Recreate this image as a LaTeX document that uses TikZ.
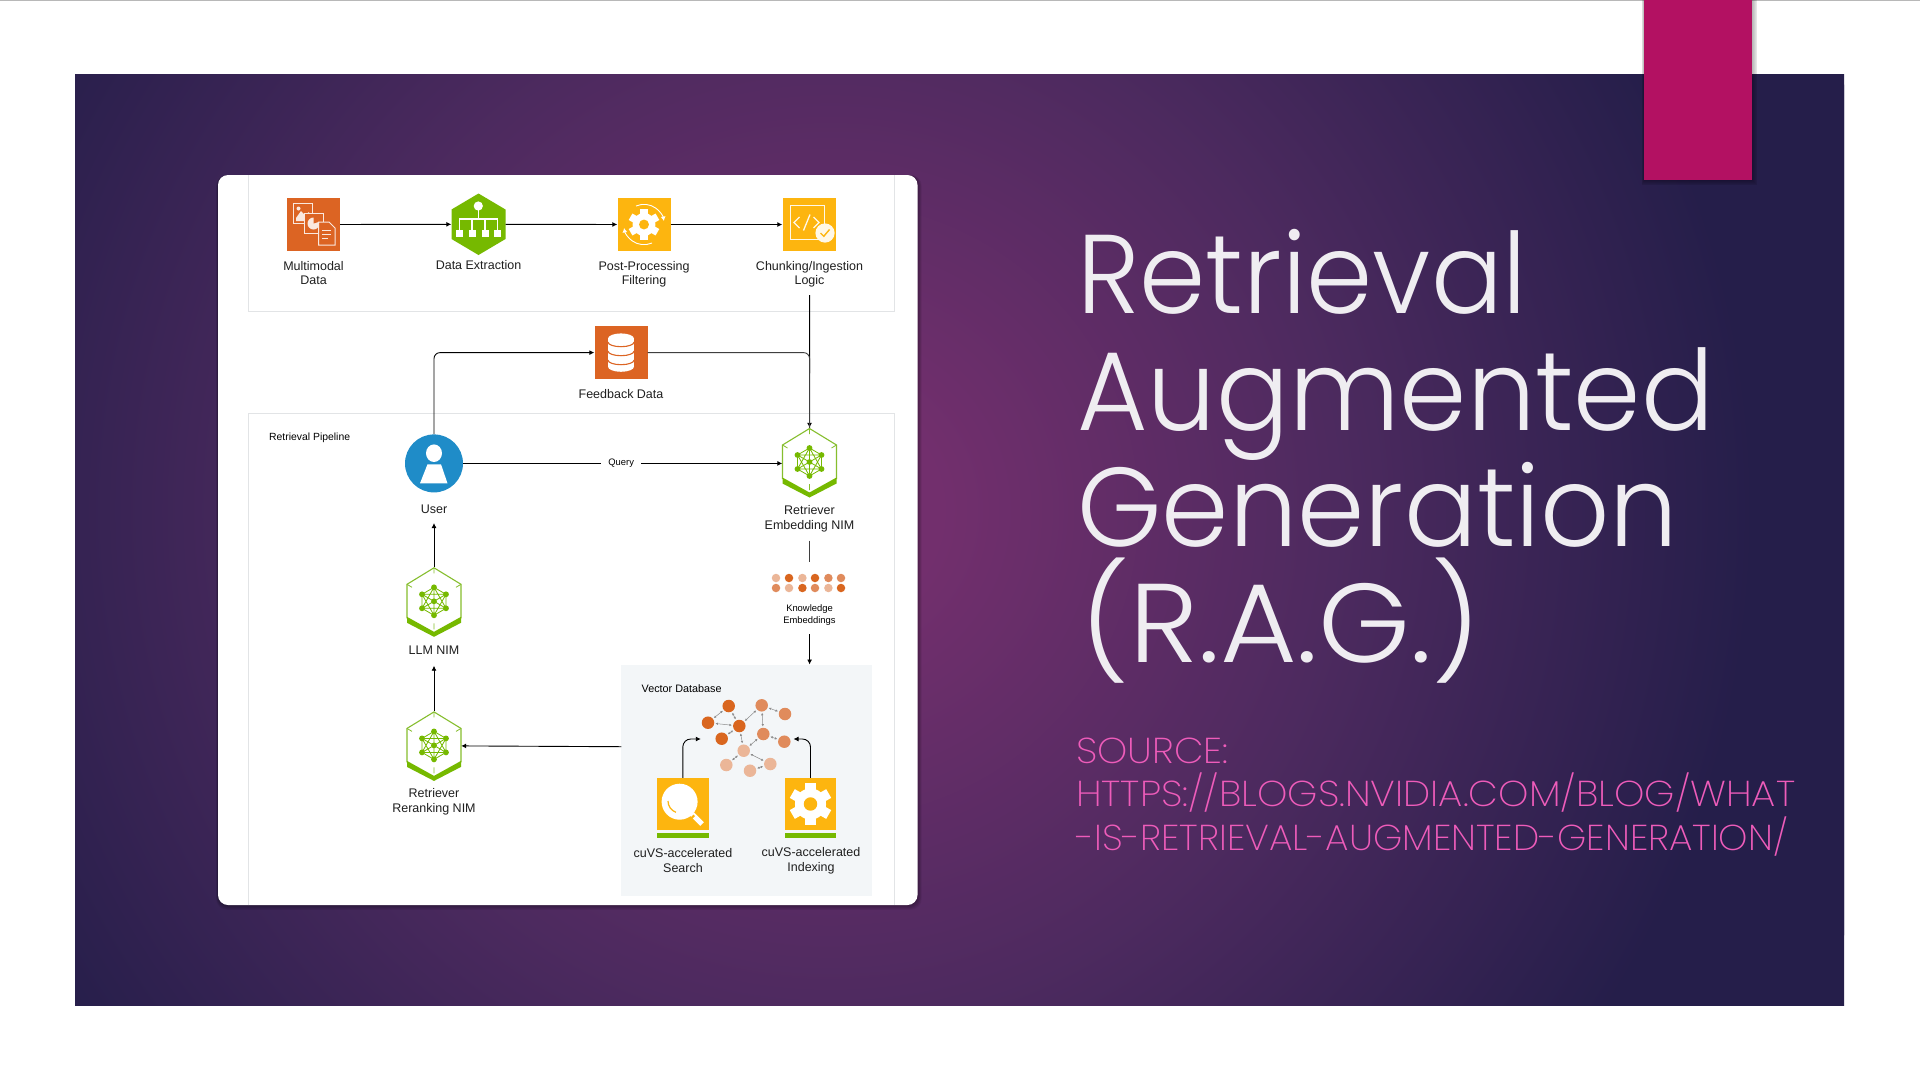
\documentclass[tikz,border=0pt]{standalone}
\usepackage{fontspec}
\usepackage{graphicx}
\setmainfont{Liberation Sans}
\newfontfamily\titlefont{Poppins Light}
\newfontfamily\srcfont{Poppins ExtraLight}
\usetikzlibrary{arrows.meta,calc}
\definecolor{oc}{HTML}{DC6423}
\definecolor{amb}{HTML}{FDB50F}
\definecolor{grn}{HTML}{76B900}
\definecolor{lgrn}{HTML}{86BE2E}
\definecolor{usr}{HTML}{1F8CC8}
\definecolor{ln}{HTML}{3F3F3F}
\definecolor{bd}{HTML}{E2E4E6}
\definecolor{vdbc}{HTML}{F3F6F8}
\definecolor{gd}{HTML}{D9661F}
\definecolor{gm}{HTML}{E08B5C}
\definecolor{gl}{HTML}{EBB698}
\definecolor{tabc}{HTML}{B31162}
\definecolor{ttl}{HTML}{EFEDF1}
\definecolor{src}{HTML}{EE5CBA}
\definecolor{cA}{HTML}{722F6D}
\definecolor{cB}{HTML}{4D2A5F}
\definecolor{cC}{HTML}{251E4A}
\pgfdeclareradialshading{bggrad}{\pgfpointorigin}{color(0bp)=(cA); color(2.5bp)=(cA); color(11.5bp)=(cB); color(21bp)=(cC); color(50bp)=(cC)}
\tikzset{
  lbl/.style={inner sep=0pt,align=center,text=black!88,font=\fontsize{12.5}{14.6}\selectfont},
  smalllbl/.style={inner sep=0pt,align=center,text=black,font=\fontsize{9.4}{11.6}\selectfont},
  sqicon/.style={minimum width=53pt,minimum height=53pt,inner sep=0pt,fill=#1},
  hexslot/.style={minimum width=54pt,minimum height=#1,inner sep=0pt},
  flow/.style={draw=ln,line width=0.9pt,-{Latex[length=5pt,width=5pt]},black},
  plainflow/.style={draw=ln,line width=0.9pt},
  gdot/.style={circle,inner sep=0pt,minimum size=12.5pt,fill=#1},
  kdot/.style={circle,inner sep=0pt,minimum size=8.5pt,fill=#1},
  gedge/.style={draw=black!45,line width=0.5pt,{Latex[length=2.5pt,width=2.5pt]}-{Latex[length=2.5pt,width=2.5pt]},shorten >=1pt,shorten <=1pt},
  ttlnode/.style={inner sep=0pt,anchor=base west,text=ttl,font=\titlefont\fontsize{112}{112}\selectfont},
  srcnode/.style={inner sep=0pt,anchor=base west,text=src,font=\srcfont\fontsize{36}{36}\selectfont}
}
\newcommand{\gearicon}[5]{%
  \begin{scope}[shift={(#1,#2)}]
    \fill[white] (0,0) circle (#3*0.74);
    \foreach \a in {0,60,...,300}{
      \fill[white,rotate=\a+#5] (-#3*0.24,-#3) rectangle (#3*0.24,-#3*0.6);
    }
    \fill[#4] (0,0) circle (#3*0.32);
  \end{scope}}
\newcommand{\nimicon}[2]{%
  \begin{scope}[shift={(#1,#2)}]
    \draw[lgrn,line width=1.1pt,line join=miter] (-27,17) -- (-27,-17) -- (0,-33.5) -- (27,-17) -- (27,17);
    \fill[grn] (-27,15.5) -- (0,30.5) -- (27,15.5) -- (27,21.5) -- (0,35.5) -- (-27,21.5) -- cycle;
    \draw[lgrn,line width=0.8pt] (0,-33.5) -- (0,-28) (-27,-17) -- (-22,-14) (27,-17) -- (22,-14) (0,28) -- (0,22);
    \draw[grn,line width=0.8pt] (0,-14) -- (-12,-7) -- (-12,7) -- (0,14) -- (12,7) -- (12,-7) -- cycle
      (0,-14) -- (-12,7) -- (12,7) -- cycle (0,14) -- (-12,-7) -- (12,-7) -- cycle (0,-14) -- (0,14) (-12,-7) -- (12,7) (12,-7) -- (-12,7);
    \foreach \p in {(0,-14),(-12,-7),(-12,7),(0,14),(12,7),(12,-7),(0,0)}{\fill[grn] \p circle (2.9);}
  \end{scope}}
\begin{document}
\begin{tikzpicture}[x=1pt,y=-1pt]
\useasboundingbox (0,0) rectangle (1920,1080);
\fill[white] (0,0) rectangle (1920,1080);
\fill[black!28] (0,0) rectangle (1920,1);
\begin{scope}
  \clip (75,74.3) rectangle (1844,1005);
  \fill[cC] (70,70) rectangle (1850,1010);
  \shade[shading=bggrad] (830,510) circle (1100);
\end{scope}
\foreach \i in {1,...,6}{\fill[black,opacity=0.05] (1644-\i*0.4,0) rectangle (1752+\i*0.9,180+\i*0.9);}
\fill[tabc] (1644,0) rectangle (1752,180);
\foreach \i in {1,...,6}{\fill[black,opacity=0.06,rounded corners=11pt] (218-\i*0.3,175) rectangle (917.5+\i*0.7,905+\i*0.8);}
\fill[white,rounded corners=10pt] (218,175) rectangle (917.5,905);
\begin{scope}
  \clip[rounded corners=10pt] (218,175) rectangle (917.5,905);
  \draw[bd,line width=1pt] (248.5,175) -- (248.5,311) -- (894,311) -- (894,175);
  \draw[bd,line width=1pt] (248.5,905) -- (248.5,413) -- (894,413) -- (894,905);
\end{scope}
\node[lbl,font=\fontsize{10.4}{12}\selectfont,text=black,anchor=west] (pipe) at (269,438.3) {Retrieval Pipeline};
\node[fill=vdbc,inner sep=0pt,minimum width=250.7pt,minimum height=231pt] (vdb) at (746.6,780.2) {};
\node[lbl,font=\fontsize{10.8}{12}\selectfont,text=black,anchor=west] (vdbl) at (641.5,689) {Vector Database};
% top row
\node[sqicon=oc] (multi) at (313.5,224.5) {};
\node[hexslot=61pt] (extract) at (478.5,224.3) {};
\node[sqicon=amb] (post) at (644,224.5) {};
\node[sqicon=amb] (chunk) at (809,224.5) {};
\node[lbl] (multil) at (313.5,272.9) {Multimodal\\Data};
\node[lbl] (extractl) at (478.5,265.3) {Data Extraction};
\node[lbl] (postl) at (644,274.3) {Post-Processing\\Filtering};
\node[lbl] (chunkl) at (809.5,274.3) {Chunking/Ingestion\\Logic};
\begin{scope}[shift={(280,190)}]
  \draw[white!85!oc,line width=1pt] (13,13.5) rectangle (32,33.5);
  \fill[white!85!oc] (16,28) -- (21,21) -- (25,25) -- (29,22) -- (29,31) -- (16,31) -- cycle (18.5,18.5) circle (2);
  \draw[white!85!oc,fill=oc,line width=1pt] (24,23.5) rectangle (43.5,43.5);
  \fill[white!85!oc] (33.5,33.5) circle (6);
  \fill[oc] (33.5,33.5) -- (33.5,27) -- (36,27) -- (40,31.5) -- cycle;
  \draw[white!85!oc,fill=oc,line width=1pt] (38.5,32) -- (49,32) -- (55,38) -- (55,55) -- (38.5,55) -- cycle;
  \draw[white!85!oc,line width=0.9pt] (42,40) -- (51,40) (42,44) -- (51,44) (42,48) -- (48,48);
\end{scope}
\fill[grn] (478.5,193.5) -- (505.5,209.5) -- (505.5,239) -- (478.5,255) -- (451.5,239) -- (451.5,209.5) -- cycle;
\fill[white] (478.3,206) circle (4.6);
\draw[white,line width=1.1pt] (478.3,206) -- (478.3,219) (459.7,230) -- (459.7,219) -- (497.4,219) -- (497.4,230) (472,219) -- (472,230) (485,219) -- (485,230);
\foreach \xx in {459.7,472,485,497.4}{\fill[white] (\xx-3.5,229.5) rectangle (\xx+3.5,236.5);}
\gearicon{644}{224.5}{15.5}{amb}{0}
\begin{scope}[shift={(644,224.5)}]
  \draw[white,line width=0.9pt,-{Latex[length=4.5pt,width=5pt]}] (-8,-18.5) arc[start angle=-113.4,end angle=-10,radius=20.2];
  \draw[white,line width=0.9pt,-{Latex[length=4.5pt,width=5pt]}] (8,18.5) arc[start angle=66.6,end angle=170,radius=20.2];
\end{scope}
\begin{scope}[shift={(775,190)}]
  \draw[white!90!amb,line width=1pt] (15.5,15.5) rectangle (49.5,49.5);
  \draw[white!90!amb,line width=1.3pt] (24.5,27) -- (19,32.5) -- (24.5,38) (38.5,27) -- (44,32.5) -- (38.5,38) (35,24.5) -- (28.5,40.5);
  \fill[white!90!amb] (50,43) circle (9.6);
  \draw[amb,line width=1.4pt] (45.5,43) -- (48.8,46.3) -- (54.5,39.5);
\end{scope}
\draw[flow] (multi) -- (extract);
\draw[flow] (extract) -- (post);
\draw[flow] (post) -- (chunk);
% feedback
\node[sqicon=oc] (feed) at (621,352.6) {};
\node[lbl] (feedl) at (621,393.6) {Feedback Data};
\begin{scope}[shift={(621,352.6)}]
  \fill[white] (-13,-14) rectangle (13,14);
  \fill[white] (0,-14) ellipse (13 and 5.2);
  \fill[white] (0,14) ellipse (13 and 5.2);
  \draw[oc,line width=1.1pt] (-13,-10.5) arc[start angle=180,end angle=360,x radius=13,y radius=-4.6];
  \draw[oc,line width=1.1pt] (-13,-1.5) arc[start angle=180,end angle=360,x radius=13,y radius=-4.6];
  \draw[oc,line width=1.1pt] (-13,7.5) arc[start angle=180,end angle=360,x radius=13,y radius=-4.6];
\end{scope}
% user
\node[circle,fill=usr,minimum size=58pt,inner sep=0pt] (user) at (434,463.4) {};
\fill[white] (434,453.2) ellipse (8 and 8.8);
\fill[white] (427.5,464.3) -- (441,464.3) -- (447.5,483.3) -- (420,483.3) -- cycle;
\node[lbl] (userl) at (434,509) {User};
% NIMs
\node[hexslot=70.8pt] (retr) at (809.5,463.4) {};
\nimicon{809.5}{462}
\node[lbl] (retrl) at (809.5,519) {Retriever\\Embedding NIM};
\node[hexslot=69pt] (llm) at (434,601.8) {};
\nimicon{434}{601.3}
\node[lbl] (llml) at (434,650) {LLM NIM};
\node[hexslot=69pt] (rerank) at (434,745.9) {};
\nimicon{434}{745.4}
\node[lbl] (rerankl) at (434,801.6) {Retriever\\Reranking NIM};
% knowledge embeddings
\foreach \nm/\xx/\yy/\cc in {a/776/578/gl,b/789/578/gd,c/802.4/578/gl,d/815/578/gd,e/828.4/578/gm,f/841/578/gm,g/776/588/gm,h/789/588/gl,i/802.4/588/gd,j/815/588/gm,k/828.4/588/gl,l/841/588/gd}{
  \node[kdot=\cc] (k\nm) at (\xx,\yy) {};
}
\node[smalllbl] (kel) at (809.5,614.8) {Knowledge\\Embeddings};
\coordinate (chunkfree) at (809.6,295);
\coordinate (retrfree) at (809.6,540.7);
\coordinate (retrend) at (809.6,562);
\coordinate (kefree) at (809.6,634);
\coordinate (vdbtop) at (809.6,664.5);
\coordinate (vdbout) at (621.3,746.7);
\coordinate (userin) at (434,523);
\coordinate (llmin) at (434,665.7);
\draw[flow] (chunkfree) -- (retr.north);
\draw[flow,rounded corners=6pt] (user.north) |- (feed.west);
\draw[plainflow,rounded corners=6pt] (feed.east) -| (chunkfree |- retr.north);
\draw[flow] (user) -- node[pos=0.495,fill=white,inner sep=0pt,minimum width=40pt,minimum height=10pt,font=\fontsize{9.4}{11}\selectfont,text=black] (query) {Query} (retr);
\draw[plainflow] (retrfree) -- (retrend);
\draw[flow] (kefree) -- (vdbtop);
\draw[flow] (llm.north) -- (userin);
\draw[flow] (rerank.north) -- (llmin);
\draw[flow] (vdbout) -- (rerank.east);
% vector graph
\node[gdot=gd] (g1) at (728.7,706) {};
\node[gdot=gd] (g2) at (708,722.7) {};
\node[gdot=gd] (g3) at (739.3,726) {};
\node[gdot=gd] (g4) at (721.7,738.7) {};
\node[gdot=gm] (g5) at (761.7,705.3) {};
\node[gdot=gm] (g6) at (785,714) {};
\node[gdot=gm] (g7) at (763.3,734) {};
\node[gdot=gm] (g8) at (784.3,741.7) {};
\node[gdot=gl] (g9) at (743.7,750.7) {};
\node[gdot=gl] (g10) at (726.3,765) {};
\node[gdot=gl] (g11) at (750,770.7) {};
\node[gdot=gl] (g12) at (770.3,764) {};
\foreach \p/\q in {g1/g2,g1/g3,g2/g3,g4/g3,g3/g5,g5/g6,g5/g7,g7/g8,g7/g9,g3/g9,g9/g10,g9/g12,g11/g12}{\draw[gedge] (\p) -- (\q);}
% cuVS search
\node[inner sep=0pt,minimum width=51.6pt,minimum height=52pt,fill=amb] (search) at (682.8,804) {};
\fill[grn] (657,832.7) rectangle (708.6,837.7);
\fill[white] (679.6,801.7) circle (18);
\draw[amb,line width=1.2pt] (668,801) arc[start angle=180,end angle=110,radius=12];
\draw[white,line width=5pt] (692,814) -- (702,824);
\fill[amb] (690.5,817.5) -- (693.5,814.5) -- (695,816) -- (692,819) -- cycle;
\node[lbl] (searchl) at (683,860.3) {cuVS-accelerated\\Search};
% cuVS indexing
\node[inner sep=0pt,minimum width=51.6pt,minimum height=52pt,fill=amb] (index) at (810.5,804) {};
\fill[grn] (784.8,832.7) rectangle (836,837.7);
\gearicon{810.5}{804}{21}{amb}{0}
\node[lbl] (indexl) at (811,860.6) {cuVS-accelerated\\Indexing};
\coordinate (searchto) at (700.8,739);
\coordinate (indexto) at (793.5,739);
\draw[flow,rounded corners=8pt] (search.north) |- (searchto);
\draw[flow,rounded corners=8pt] (index.north) |- (indexto);
% title
\node[ttlnode] (t1) at (1077,313) {\resizebox{450pt}{\height}{Retrieval}};
\node[ttlnode] (t2) at (1077,430) {\resizebox{637pt}{\height}{Augmented}};
\node[ttlnode] (t3) at (1077,546.7) {\resizebox{601pt}{\height}{Generation}};
\node[ttlnode] (t4) at (1080,662.7) {\resizebox{401pt}{\height}{(R.A.G.)}};
\node[srcnode] (s1) at (1076,763) {\resizebox{152pt}{\height}{SOURCE:}};
\node[srcnode] (s2) at (1076,806.7) {\resizebox{719pt}{\height}{HTTPS://BLOGS.NVIDIA.COM/BLOG/WHAT}};
\node[srcnode] (s3) at (1076,850) {\resizebox{712pt}{\height}{-IS-RETRIEVAL-AUGMENTED-GENERATION/}};
\end{tikzpicture}
\end{document}
